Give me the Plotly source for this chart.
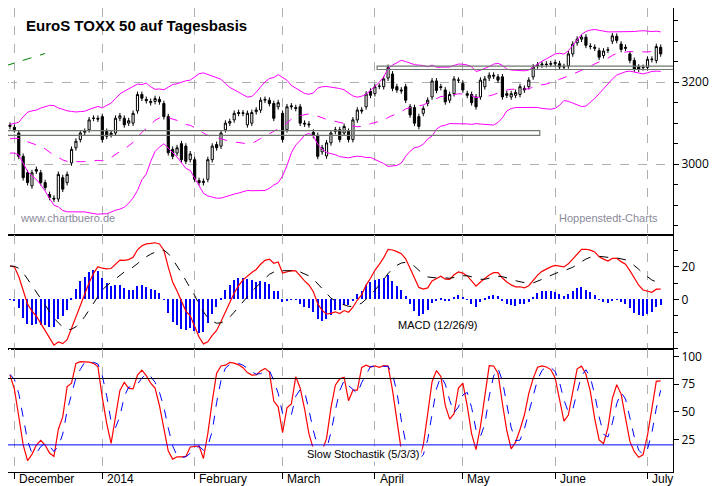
import plotly.graph_objects as go
from plotly.subplots import make_subplots
import pandas as pd

# closes before the visible window (needed to warm up the indicators)
pre_close = [2930, 2950, 2965, 2980, 2990, 3010, 3020, 3030, 3025, 3040, 3035, 3030,
             3045, 3055, 3050, 3060, 3040, 3045, 3030, 3055, 3050, 3040, 3060, 3070,
             3080, 3075, 3060, 3045, 3050, 3065, 3070, 3075, 3085, 3090]

opens = [3092, 3090, 3076, 3019, 2979, 2947, 2987, 2979, 2955, 2926, 2917, 2915, 2967, 2955,
         3003, 3040, 3060, 3078, 3084, 3112, 3112, 3116, 3080, 3072, 3076, 3112, 3112, 3100,
         3100, 3130, 3170, 3158, 3150, 3153, 3158, 3148, 3116, 3036, 3027, 3050, 3044, 3011,
         3011, 2960, 2955, 2963, 3011, 3048, 3044, 3084, 3100, 3108, 3126, 3124, 3096, 3100,
         3128, 3132, 3156, 3156, 3148, 3140, 3124, 3084, 3140, 3138, 3140, 3100, 3098, 3078,
         3070, 3030, 3020, 3052, 3080, 3084, 3076, 3080, 3060, 3108, 3132,
         3140, 3178, 3172, 3190, 3189, 3210, 3220, 3189, 3181, 3189, 3140, 3138, 3116, 3124,
         3148, 3164, 3203, 3189, 3181, 3156, 3172, 3205, 3197, 3172, 3170, 3164, 3164, 3189,
         3210, 3217, 3213, 3213, 3172, 3164, 3168, 3170, 3185, 3189, 3213, 3240, 3242, 3244,
         3244, 3245, 3245, 3238, 3240, 3269, 3296, 3305, 3310, 3288, 3285, 3277, 3265, 3278,
         3300, 3312, 3293, 3285, 3269, 3253, 3237, 3235, 3236, 3255, 3253, 3285]
closes = [3095, 3084, 3019, 2967, 2955, 2979, 2983, 2955, 2943, 2919, 2915, 2975, 2939, 2975,
          3036, 3056, 3076, 3080, 3108, 3112, 3110, 3060, 3068, 3076, 3112, 3118, 3096, 3106,
          3124, 3170, 3161, 3155, 3153, 3160, 3152, 3116, 3028, 3019, 3040, 3011, 3007, 3025,
          2963, 2955, 2958, 3011, 3044, 3040, 3076, 3100, 3104, 3124, 3124, 3125, 3124, 3126,
          3132, 3156, 3158, 3148, 3112, 3150, 3060, 3140, 3142, 3136, 3100, 3098, 3096, 3070,
          3019, 3040, 3052, 3076, 3084, 3060, 3092, 3060, 3108, 3132, 3130,
          3171, 3168, 3189, 3190, 3208, 3236, 3185, 3181, 3179, 3156, 3120, 3100, 3092, 3136,
          3156, 3203, 3180, 3187, 3152, 3170, 3208, 3205, 3181, 3168, 3150, 3140, 3205, 3208,
          3217, 3215, 3205, 3164, 3168, 3172, 3175, 3189, 3181, 3205, 3237, 3242, 3244, 3243,
          3245, 3248, 3237, 3237, 3269, 3293, 3305, 3310, 3290, 3287, 3283, 3261, 3276, 3279,
          3313, 3302, 3280, 3283, 3253, 3232, 3232, 3236, 3256, 3256, 3287, 3269]

month_idx = [1, 21, 42, 62, 83, 103, 124, 145]
month_lbl = ["December", "2014", "February", "March", "April", "May", "June", "July"]
zone_a = [3070, 3082]
zone_b = [3231, 3239]
trend_x = [-1, 8]
trend_y = [3240, 3270]

WICK = 7
n = len(closes)
x = list(range(n))
highs = [max(o, c) + WICK for o, c in zip(opens, closes)]
lows = [min(o, c) - WICK for o, c in zip(opens, closes)]

allc = pd.Series(pre_close + closes)
allh = pd.Series([c + WICK for c in pre_close] + highs)
alll = pd.Series([c - WICK for c in pre_close] + lows)
p = len(pre_close)

mid = allc.rolling(20).mean()
sd = allc.rolling(20).std(ddof=0)
up, lo = mid + 2 * sd, mid - 2 * sd
macd = allc.ewm(span=12, adjust=False).mean() - allc.ewm(span=26, adjust=False).mean()
sig = macd.ewm(span=9, adjust=False).mean()
hist = macd - sig
fastk = 100 * (allc - alll.rolling(5).min()) / (allh.rolling(5).max() - alll.rolling(5).min())
slowk = fastk.rolling(3).mean()
slowd = slowk.rolling(3).mean()

fig = make_subplots(rows=3, cols=1, shared_xaxes=True, vertical_spacing=0,
                    row_heights=[230, 115, 125])

fig.add_trace(go.Candlestick(x=x, open=opens, high=highs, low=lows, close=closes,
                             increasing=dict(fillcolor="white", line=dict(color="black", width=1)),
                             decreasing=dict(fillcolor="black", line=dict(color="black", width=1)),
                             whiskerwidth=0), row=1, col=1)
fig.add_trace(go.Scatter(x=x, y=up[p:], mode="lines", line=dict(color="#ff00ff", width=1)), row=1, col=1)
fig.add_trace(go.Scatter(x=x, y=lo[p:], mode="lines", line=dict(color="#ff00ff", width=1)), row=1, col=1)
fig.add_trace(go.Scatter(x=x, y=mid[p:], mode="lines", line=dict(color="#ff00ff", width=1, dash="dash")), row=1, col=1)
fig.add_trace(go.Scatter(x=trend_x, y=trend_y, mode="lines", line=dict(color="green", width=1, dash="dash")), row=1, col=1)

fig.add_trace(go.Bar(x=x, y=hist[p:], marker=dict(color="blue", line=dict(width=0)), width=0.3), row=2, col=1)
fig.add_trace(go.Scatter(x=x, y=macd[p:], mode="lines", line=dict(color="red", width=1.2)), row=2, col=1)
fig.add_trace(go.Scatter(x=x, y=sig[p:], mode="lines", line=dict(color="black", width=1, dash="dash")), row=2, col=1)

fig.add_trace(go.Scatter(x=x, y=slowk[p:], mode="lines", line=dict(color="red", width=1.2)), row=3, col=1)
fig.add_trace(go.Scatter(x=x, y=slowd[p:], mode="lines", line=dict(color="blue", width=1, dash="dash")), row=3, col=1)

# support zones
for zx0, zx1, z in [(-1, 120.5, zone_a), (83.5, 151, zone_b)]:
    fig.add_shape(type="rect", x0=zx0, x1=zx1, y0=z[0], y1=z[1], xref="x", yref="y",
                  line=dict(color="#707870", width=1.2), fillcolor="rgba(0,0,0,0)")
fig.add_hline(y=80, line=dict(color="black", width=1), row=3, col=1)
fig.add_hline(y=20, line=dict(color="blue", width=1), row=3, col=1)

xr = [-0.45, 150.8]
for r in (1, 2, 3):
    fig.update_xaxes(range=xr, tickvals=month_idx, ticktext=[""] * 8, showgrid=True,
                     gridcolor="#b0b0b0", griddash="dash", gridwidth=1, showline=True,
                     linecolor="black", mirror=True, ticks="", row=r, col=1)
fig.update_xaxes(ticks="outside", ticklen=6, tickcolor="black", rangeslider_visible=False, row=3, col=1)
fig.update_xaxes(rangeslider_visible=False, row=1, col=1)

common = dict(side="right", showline=True, linecolor="black", mirror=True, ticks="outside",
              ticklen=5, tickcolor="black", zeroline=False, tickfont=dict(size=12, color="black"))
fig.update_yaxes(range=[2827, 3381], tickvals=[3000, 3200], showgrid=True, gridcolor="#b0b0b0",
                 griddash="dash", minor=dict(dtick=50, ticks="outside", ticklen=4, tickcolor="black"),
                 **common, row=1, col=1)
fig.update_yaxes(range=[-30, 39.4], tickvals=[0, 20], showgrid=False,
                 minor=dict(dtick=10, ticks="outside", ticklen=4, tickcolor="black"), **common, row=2, col=1)
fig.update_yaxes(range=[-4.5, 107], tickvals=[25, 50, 75, 100], showgrid=False, **common, row=3, col=1)

ann = [
    dict(x=0.024, y=0.985, text="<b>EuroS TOXX 50 auf Tagesbasis</b>", font=dict(size=15, family="Arial", color="black")),
    dict(x=0.015, y=0.565, text="www.chartbuero.de", font=dict(size=11, family="Arial", color="#8a8a9a")),
    dict(x=0.826, y=0.565, text="Hoppenstedt-Charts", font=dict(size=11, family="Arial", color="#8a8a9a")),
    dict(x=0.583, y=0.335, text="MACD (12/26/9)", font=dict(size=11, family="Arial", color="black")),
    dict(x=0.447, y=0.056, text="Slow Stochastik (5/3/3)", font=dict(size=11, family="Arial", color="black"),
         bgcolor="white"),
]
for a in ann:
    fig.add_annotation(xref="paper", yref="paper", xanchor="left", yanchor="top", showarrow=False, **a)
for i, t in zip(month_idx, month_lbl):
    fig.add_annotation(x=i + 0.6, y=0, xref="x3", yref="paper", yanchor="top", xanchor="left", yshift=2,
                       text=t, showarrow=False, font=dict(size=12, family="Arial", color="black"))

fig.update_layout(width=723, height=486, margin=dict(l=0, r=58, t=0, b=22), showlegend=False,
                  plot_bgcolor="white", paper_bgcolor="white", bargap=0)
fig.write_html("out.html")
